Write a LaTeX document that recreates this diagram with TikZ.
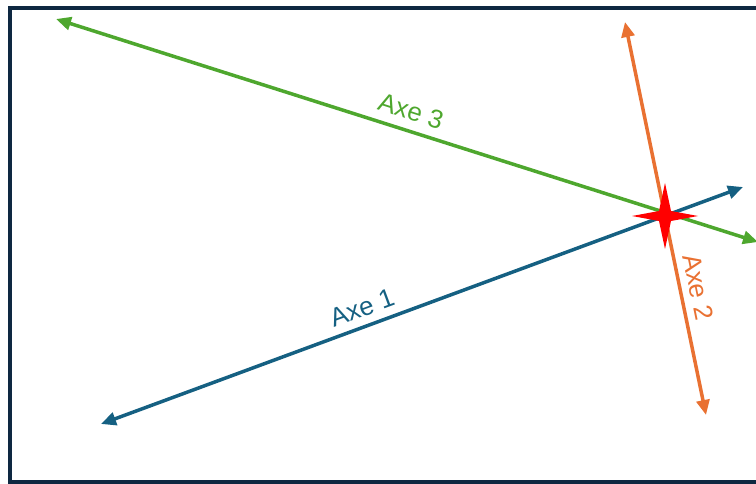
\documentclass[tikz,border=0pt]{standalone}
\usepackage{fontspec}
\setmainfont{Liberation Sans}
\usetikzlibrary{arrows.meta}
\definecolor{axeblue}{HTML}{156082}
\definecolor{axegreen}{HTML}{4EA72E}
\definecolor{axeorange}{HTML}{E97132}
\definecolor{frame}{HTML}{0E2841}
\tikzset{
  axis/.style={line width=3.5pt, {Triangle[length=15pt,width=13pt]}-{Triangle[length=15pt,width=13pt]}},
  axelabel/.style={font=\fontsize{26}{30}\selectfont, inner sep=0pt}
}
\begin{document}
\begin{tikzpicture}[x=1pt,y=-1pt]
\useasboundingbox (0,0) rectangle (756,484);
\clip (0,0) rectangle (756,484);
\draw[frame, line width=4pt] (10,8) rectangle (762,482);
\coordinate (b1) at (101,424);
\coordinate (b2) at (743,187);
\coordinate (g1) at (56,19);
\coordinate (g2) at (758,242);
\coordinate (o1) at (625,22);
\coordinate (o2) at (706,415);
\draw[axis, axegreen] (g1) -- (g2);
\draw[axis, axeblue] (b1) -- (b2);
\draw[axis, axeorange] (o1) -- (o2);
\coordinate (c) at (665,216);
\fill[red] (c) ++(-33,0) -- ++(27,-5) -- ++(6,-28) -- ++(6,28) -- ++(27,5) -- ++(-27,5) -- ++(-6,28) -- ++(-6,-28) -- cycle;
\node[axelabel, text=axeblue, rotate=20.3] (l1) at (362,308) {Axe 1};
\node[axelabel, text=axegreen, rotate=-17.8] (l3) at (411,111) {Axe 3};
\node[axelabel, text=axeorange, rotate=-78.3] (l2) at (698,287) {Axe 2};
\end{tikzpicture}
\end{document}
